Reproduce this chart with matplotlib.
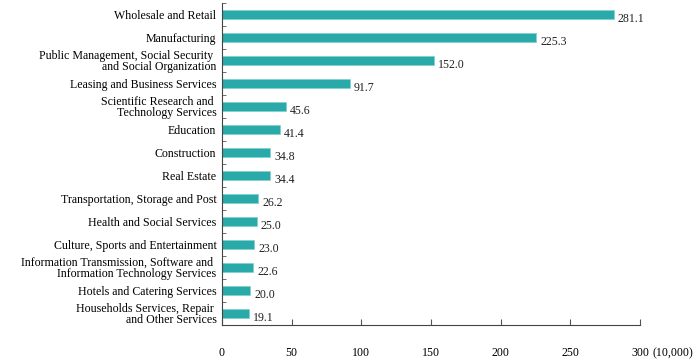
import numpy as np
import matplotlib.pyplot as plt

plt.rcParams['font.family'] = ['Liberation Serif', 'DejaVu Serif']

categories = [
    "Wholesale and Retail",
    "Manufacturing",
    "Public Management, Social Security \nand Social Organization",
    "Leasing and Business Services",
    "Scientific Research and \nTechnology Services",
    "Education",
    "Construction",
    "Real Estate",
    "Transportation, Storage and Post",
    "Health and Social Services",
    "Culture, Sports and Entertainment",
    "Information Transmission, Software and \nInformation Technology Services",
    "Hotels and Catering Services",
    "Households Services, Repair \nand Other Services",
]
values = [281.1, 225.3, 152.0, 91.7, 45.6, 41.4, 34.8, 34.4, 26.2, 25.0, 23.0, 22.6, 20.0, 19.1]
xticks = [0, 50, 100, 150, 200, 250, 300]

fs = 8.6
fig = plt.figure(figsize=(6.98, 3.62), dpi=100)
ax = fig.add_axes([0.318, 0.102, 0.599, 0.890])

y = np.arange(len(categories))
ax.barh(y, values, height=0.4, color='#2aa9a9', edgecolor='#7fd0d0', linewidth=0.5)

for yi, v in zip(y, values):
    ax.annotate(f"{v:.1f}", (v, yi), xytext=(3, -3), textcoords='offset points',
                ha='left', va='center', fontsize=fs, color='#222222')

ax.set_ylim(len(categories) - 0.5, -0.5)
ax.set_xlim(0, 300)
ax.set_yticks(y)
ax.set_yticklabels(categories, fontsize=fs, linespacing=0.85)
ax.set_yticks(np.arange(len(categories) + 1) - 0.5, minor=True)
ax.tick_params(axis='y', which='major', length=0, pad=4)
ax.tick_params(axis='y', which='minor', direction='in', length=3, color='#555555')

ax.set_xticks(xticks)
ax.set_xticklabels([str(t) for t in xticks], fontsize=fs)
ax.tick_params(axis='x', direction='in', length=4, pad=16, color='#555555')
ax.annotate("(10,000)", (1.0, 0.0), xycoords='axes fraction', xytext=(12, -28),
            textcoords='offset pixels', ha='left', va='center', fontsize=fs)

for s in ['top', 'right']:
    ax.spines[s].set_visible(False)
for s in ['left', 'bottom']:
    ax.spines[s].set_color('#444444')
    ax.spines[s].set_linewidth(0.8)

fig.savefig('out.png', dpi=100)
